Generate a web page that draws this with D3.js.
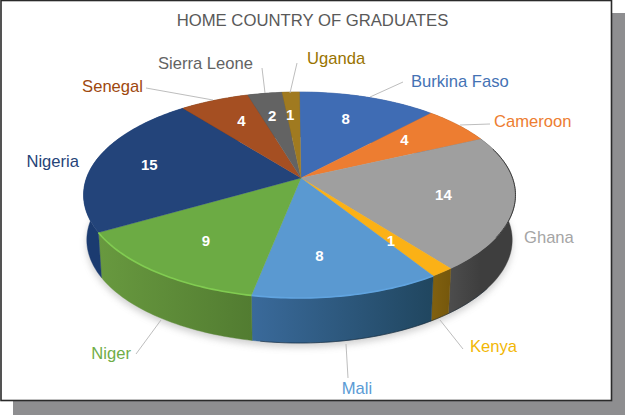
<!DOCTYPE html>
<html>
<head>
<meta charset="utf-8">
<script src="https://d3js.org/d3.v7.min.js"></script>
<title>Home country of graduates</title>
<style>
html, body { margin: 0; padding: 0; background: #fff; }
svg { display: block; font-family: "Liberation Sans", Arial, sans-serif; }
</style>
</head>
<body>
<svg id="chart" width="625" height="415"></svg>
<script>
var countries = ["Burkina Faso", "Cameroon", "Ghana", "Kenya", "Mali", "Niger", "Nigeria", "Senegal", "Sierra Leone", "Uganda"];
var graduates = [8, 4, 14, 1, 8, 9, 15, 4, 2, 1];
var topColors = ["#3f6cb4", "#ed7d31", "#9f9f9f", "#fbb116", "#5a99d1", "#6cab44", "#23447a", "#a54f22", "#636363", "#a07a20"];
var wallLight = ["#2f5597", "#a9571f", "#4c4c4c", "#80600f", "#3a6a9b", "#68993f", "#1d4080", "#70360f", "#444444", "#6e5410"];
var wallDark = ["#2f5597", "#a9571f", "#3e3e3e", "#75570c", "#20465f", "#527c31", "#1b3b70", "#70360f", "#444444", "#6e5410"];
var labelColors = ["#4472b4", "#ed7d31", "#a5a5a5", "#f2b705", "#5b9bd5", "#70ad47", "#264478", "#9e480e", "#636363", "#997300"];

// where the outer names sit, and the leader from slice edge to name
var labelAt = [[411, 87, "start"], [494, 127, "start"], [524, 243, "start"], [470, 352, "start"], [357, 394, "middle"], [131, 359, "end"], [79, 167, "end"], [143, 92, "end"], [253, 69, "end"], [307, 64, "start"]];
var leaders = [[[370, 97], [403, 82]], [[460, 125], [490, 124]], null, [[440, 320], [463, 349]], [[346, 344], [348, 378]], [[161, 320], [136, 354]], null, [[213, 100], [146, 88]], [[265, 93], [262, 68]], [[290, 93], [297, 63]]];
var valueNudge = [-4, -9, -5, -4, -12, 2, -7, 4, -2, -3];

var svg = d3.select("#chart");
var defs = svg.append("defs");

defs.append("filter").attr("id", "soft").attr("x", "-10%").attr("y", "-10%").attr("width", "120%").attr("height", "130%")
  .append("feGaussianBlur").attr("stdDeviation", 3.5);
defs.append("filter").attr("id", "edge").attr("x", "-10%").attr("y", "-10%").attr("width", "120%").attr("height", "120%")
  .append("feGaussianBlur").attr("stdDeviation", 0.7);

// page: grey drop block then white framed panel
svg.append("rect").attr("x", 13).attr("y", 13).attr("width", 612).attr("height", 402).attr("fill", "#8e8e90");
svg.append("rect").attr("x", 1).attr("y", 0.5).attr("width", 610.5).attr("height", 400)
  .attr("fill", "#fff").attr("stroke", "#2a2a2a").attr("stroke-width", 1.6);

svg.append("text").attr("x", 312.5).attr("y", 26).attr("text-anchor", "middle")
  .attr("font-size", 16.7).attr("fill", "#595959").text("HOME COUNTRY OF GRADUATES");

// pie tilted in perspective, disc coords go through project()
var cx = 299.5, cy = 178, radius = 213, stretch = 100.2, persp = 0.165, depth = 45, shrink = 0.985;
var apex = [301, 178];

function project(angle, r) {
  var u = Math.sin(angle) * r, v = -Math.cos(angle) * r, d = 1 - persp * v;
  return [cx + radius * u / d, cy + stretch * v / d];
}
function lower(p) {
  return [cx + (p[0] - cx) * shrink, p[1] + depth];
}
function arcPoints(a0, a1) {
  var n = Math.max(2, Math.ceil((a1 - a0) / 0.02));
  return d3.range(n + 1).map(function(i) { return project(a0 + (a1 - a0) * i / n, 1); });
}
var line = d3.line();

var slices = d3.pie().sort(null).value(function(d) { return d; })(graduates);
// whole-disc outline, for the shadow
var rim = arcPoints(0, 2 * Math.PI);

svg.append("path").attr("d", line(rim.map(function(p) { return [lower(p)[0], lower(p)[1] + 4]; })) + "Z")
  .attr("fill", "#888").attr("opacity", 0.4).attr("filter", "url(#soft)");

// side walls first, the top covers the back half
slices.forEach(function(s, i) {
  var id = "wall" + i, pts = arcPoints(s.startAngle, s.endAngle);
  var g = defs.append("linearGradient").attr("id", id).attr("gradientUnits", "userSpaceOnUse")
    .attr("x1", pts[0][0]).attr("x2", pts[pts.length - 1][0]).attr("y1", 0).attr("y2", 0);
  g.append("stop").attr("offset", 0).attr("stop-color", wallDark[i]);
  g.append("stop").attr("offset", 1).attr("stop-color", wallLight[i]);
  svg.append("path").attr("d", line(pts.concat(pts.slice().reverse().map(lower))) + "Z")
    .attr("fill", "url(#" + id + ")").attr("stroke", "url(#" + id + ")").attr("stroke-width", 0.4);
});

// dark line under the front of the Mali/Kenya/Ghana wall
svg.append("path")
  .attr("d", line(arcPoints(Math.PI * 0.7, Math.PI * 1.05).map(lower)))
  .attr("fill", "none").attr("stroke", "#10202f").attr("stroke-width", 0.8).attr("opacity", 0.7);

slices.forEach(function(s, i) {
  svg.append("path").attr("d", line([apex].concat(arcPoints(s.startAngle, s.endAngle))) + "Z")
    .attr("fill", topColors[i]).attr("stroke", topColors[i]).attr("stroke-width", 0.3);
});

// dark hairline round the right of the Ghana top
svg.append("path").attr("d", line(arcPoints(slices[2].startAngle + 0.12, slices[2].startAngle + 1.0)))
  .attr("fill", "none").attr("stroke", "#3a3a3a").attr("stroke-width", 1);

// lit bevel along the front rim
slices.forEach(function(s, i) {
  if (i != 5 && i != 4) return;
  svg.append("path").attr("d", line(arcPoints(s.startAngle, s.endAngle)))
    .attr("fill", "none").attr("stroke", d3.color(topColors[i]).brighter(i == 5 ? 0.5 : 0.2)).attr("stroke-width", 1.6)
    .attr("filter", "url(#edge)");
});

leaders.forEach(function(l) {
  if (l) svg.append("path").attr("d", line(l)).attr("fill", "none").attr("stroke", "#b5b5b5").attr("stroke-width", 0.9);
});

countries.forEach(function(name, i) {
  svg.append("text").attr("x", labelAt[i][0]).attr("y", labelAt[i][1]).attr("text-anchor", labelAt[i][2])
    .attr("font-size", 16.6).attr("fill", labelColors[i]).text(name);
});

slices.forEach(function(s, i) {
  var p = project((s.startAngle + s.endAngle) / 2, 0.7);
  svg.append("text").attr("x", p[0] + valueNudge[i]).attr("y", p[1] + 5).attr("text-anchor", "middle")
    .attr("font-size", 15).attr("font-weight", "bold").attr("fill", "#fff").text(s.data);
});
</script>
</body>
</html>
